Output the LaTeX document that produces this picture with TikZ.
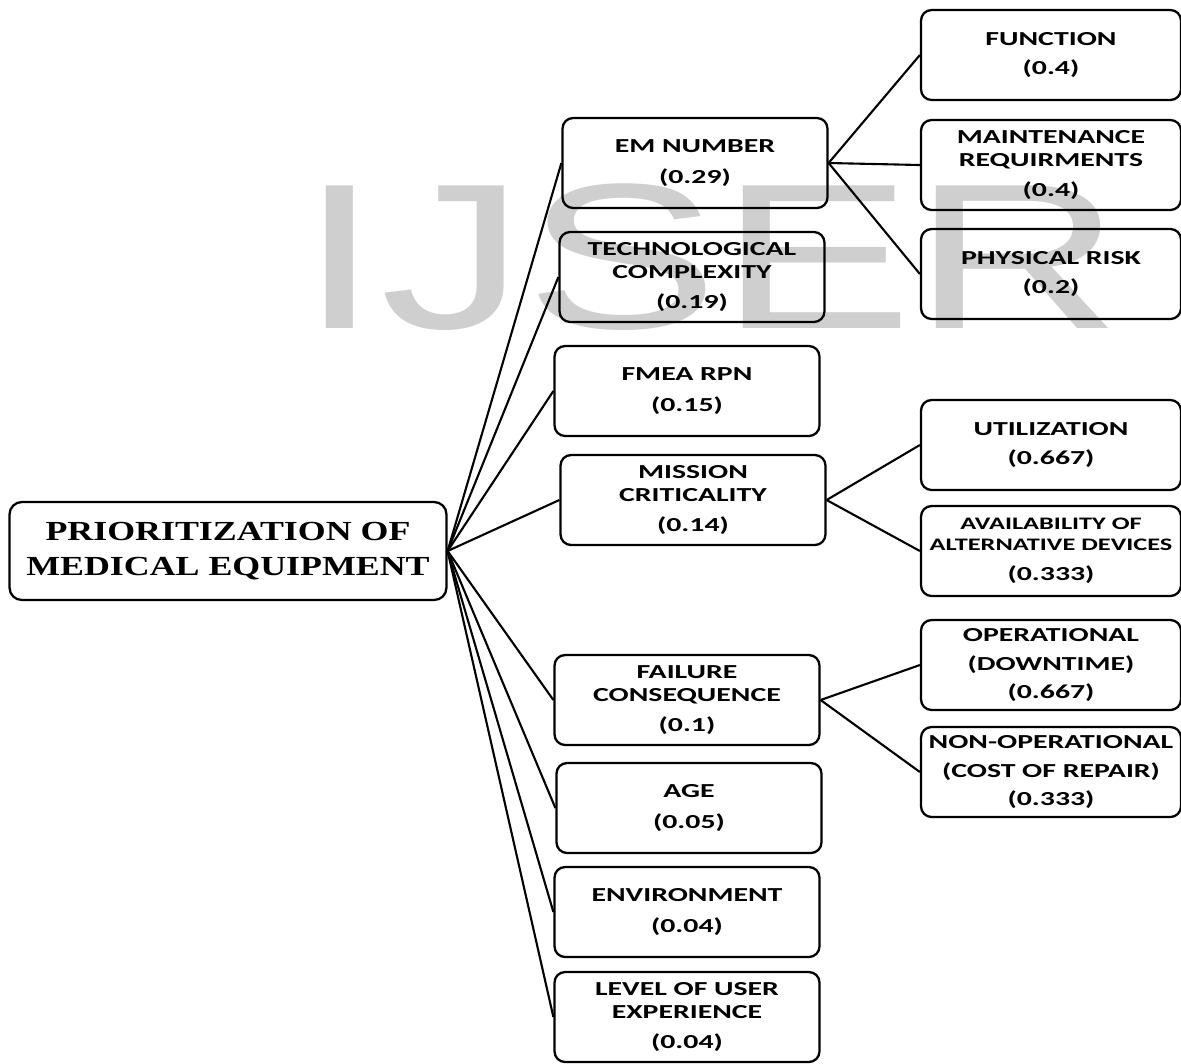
\documentclass[tikz,border=0pt]{standalone}
\usepackage{fontspec}
\setsansfont{Carlito}[FakeStretch=1.5]
\newfontfamily\rootfont{Liberation Serif}[FakeStretch=1.3]
\newfontfamily\markfont{Liberation Sans}[FakeStretch=1.4]
\usepackage{tikz}

\begin{document}
\begin{tikzpicture}
[
    x=0.02cm, y=-0.02cm, line width=1.3pt,
    % Nodes are named L-level-row
    % The root is L-0, criteria are L-1-0 ... L-1-7
    % Sub-criteria are L-2-0 ... L-2-6
]

%=================================== Start ===================================
\tikzstyle{box}  = [draw, rounded corners=6pt, align=center, minimum width=5.3cm,
                    minimum height=1.8cm, inner xsep=1pt,
                    font=\sffamily\bfseries\fontsize{11.3}{13}\selectfont]
\tikzstyle{sub}  = [box, minimum width=5.2cm]
\tikzstyle{link} = [-, black, line width=1.2pt]

\useasboundingbox (0,0) rectangle (1181,1063);

% watermark behind everything
\node[text=black!19, font=\markfont\fontsize{118}{118}\selectfont,
      anchor=base, inner sep=0pt] (mark) at (711,328) {IJSER};

{
    % Root
    \node[draw, rounded corners=7pt, align=center, minimum width=8.74cm,
          minimum height=1.96cm, font=\rootfont\bfseries\fontsize{15.7}{19.9}\selectfont]
          (L-0) at (228,551) {PRIORITIZATION OF\\MEDICAL EQUIPMENT};

    % Criteria
    \foreach \i / \x / \y / \t in {
        0/695/163/{EM NUMBER\\[5pt](0.29)},
        1/692/277/{TECHNOLOGICAL\\COMPLEXITY\\[4pt](0.19)},
        2/687/391/{FMEA RPN\\[5pt](0.15)},
        3/693/500/{MISSION\\CRITICALITY\\[4pt](0.14)},
        4/687/700/{FAILURE\\CONSEQUENCE\\[4pt](0.1)},
        5/689/808/{AGE\\[5pt](0.05)},
        6/687/912/{ENVIRONMENT\\[5pt](0.04)},
        7/687/1017/{LEVEL OF USER\\EXPERIENCE\\[4pt](0.04)}}
        \node[box] (L-1-\i) at (\x,\y) {\t};

    % Sub-criteria
    \foreach \i / \y / \t in {
        0/55/{FUNCTION\\[4pt](0.4)},
        1/165/{MAINTENANCE\\REQUIRMENTS\\[4pt](0.4)},
        2/274/{PHYSICAL RISK\\[4pt](0.2)},
        3/445/{UTILIZATION\\[4pt](0.667)},
        5/665/{OPERATIONAL\\[3pt](DOWNTIME)\\[3pt](0.667)},
        6/772/{NON-OPERATIONAL\\[3pt](COST OF REPAIR)\\[3pt](0.333)}}
        \node[sub] (L-2-\i) at (1051,\y) {\t};
    \node[sub, font=\sffamily\bfseries\fontsize{10}{11.5}\selectfont] (L-2-4) at (1051,551)
          {AVAILABILITY OF\\ALTERNATIVE DEVICES\\[6pt]\fontsize{11.3}{13}\selectfont(0.333)};

    % Connect nodes
    \foreach \i in {0,...,7}
        \draw[link] (L-0.east) -- (L-1-\i.west);
    \foreach \p / \c in {0/0, 0/1, 0/2, 3/3, 3/4, 4/5, 4/6}
        \draw[link] (L-1-\p.east) -- (L-2-\c.west);
}
%==================================== END ====================================

\end{tikzpicture}
\end{document}
